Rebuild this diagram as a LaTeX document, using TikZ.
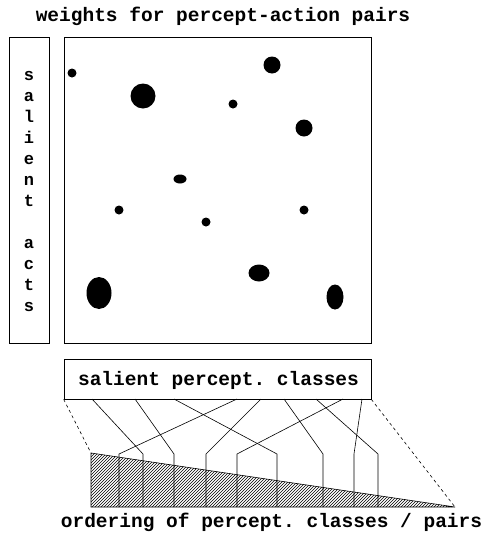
\documentclass[tikz,border=0pt]{standalone}
\usepackage{fontspec}
\setmonofont{Liberation Mono}
\usetikzlibrary{patterns}
\tikzset{
  lbl/.style={font=\fontsize{19.5}{22}\selectfont\ttfamily\bfseries, inner sep=0pt},
  vlbl/.style={font=\fontsize{17}{19}\selectfont\ttfamily\bfseries, inner sep=0pt},
  frame/.style={draw, line width=0.7pt, inner sep=0pt},
  wire/.style={line width=0.6pt},
  guide/.style={line width=0.6pt, dash pattern=on 3pt off 3pt},
  blob/.style={fill=black}
}
\begin{document}
\begin{tikzpicture}[x=1pt,y=-1pt]
\useasboundingbox (0,0) rectangle (483,536);
% title
\node[lbl, anchor=base] (title) at (223,21) {weights for percept-action pairs};
% left box
\node[frame, minimum width=40pt, minimum height=306pt] (acts) at (29,190) {};
\foreach \c [count=\i] in {s,a,l,i,e,n,t,{},a,c,t,s}{
  \node[vlbl, anchor=base] (v\i) at (29,{80.5+(\i-1)*21}) {\c};
}
% main box
\node[frame, minimum width=307pt, minimum height=306pt] (weights) at (217.5,190) {};
% blobs
\fill[blob] (72,73) circle (4.5);
\fill[blob] (143,96) circle (12.5);
\fill[blob] (272,65) circle (8.5);
\fill[blob] (233,104) circle (4.5);
\fill[blob] (304,128) circle (8.5);
\fill[blob] (180,179) ellipse (6.5 and 4.5);
\fill[blob] (119,210) circle (4.5);
\fill[blob] (206,222) circle (4.5);
\fill[blob] (304,210) circle (4.5);
\fill[blob] (99,293) ellipse (12.5 and 16);
\fill[blob] (259,273) ellipse (10.5 and 8.5);
\fill[blob] (335,297) ellipse (8.5 and 12.5);
% classes box
\node[frame, minimum width=307pt, minimum height=40pt] (classes) at (217.5,379) {};
\node[lbl, anchor=base] (classtxt) at (218.5,385) {salient percept. classes};
% triangle
\coordinate (tA) at (91,453);
\coordinate (tB) at (91,507);
\coordinate (tC) at (455,507);
\draw[line width=0.6pt, pattern=north east lines] (tA) -- (tB) -- (tC) -- cycle;
% dashed guides
\draw[guide] (classes.south west) -- (tA);
\draw[guide] (classes.south east) -- (tC);
% wires
\foreach \t/\b [count=\i] in {92/143,135/174,174/277,237/119,261/206,284/323,316/378,343/237,362/354}{
  \coordinate (s\i) at (\t,399);
  \coordinate (k\i) at (\b,454);
  \coordinate (e\i) at (\b,507);
  \draw[wire] (s\i) -- (k\i) -- (e\i);
}
% bottom label
\node[lbl, anchor=base] (order) at (271.5,527) {ordering of percept. classes / pairs};
\end{tikzpicture}
\end{document}
